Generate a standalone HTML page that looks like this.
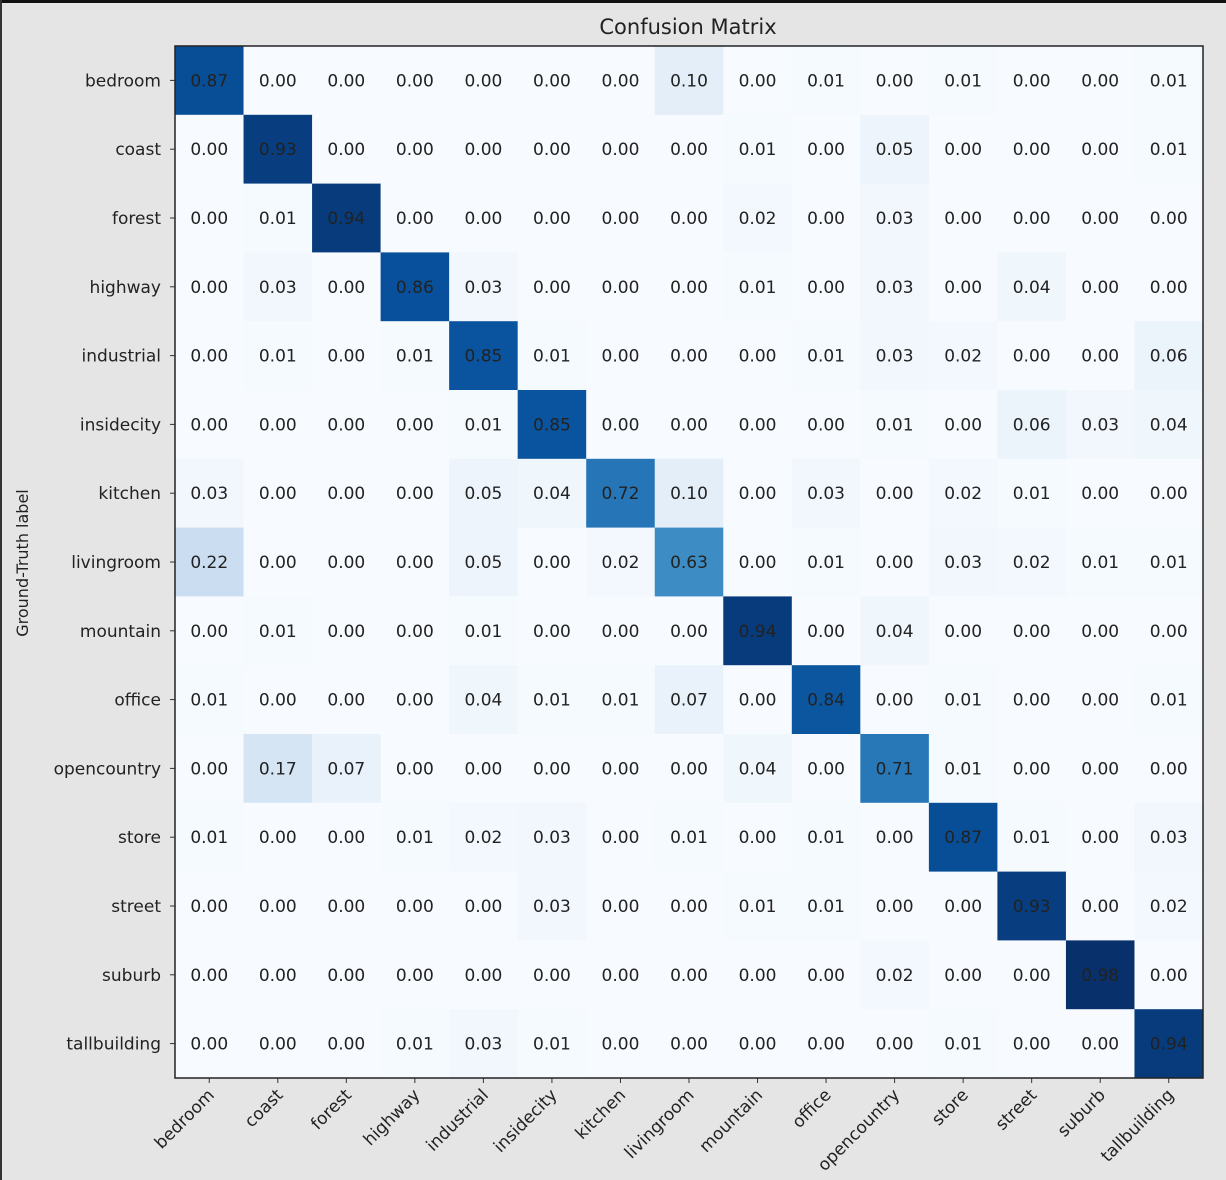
<!DOCTYPE html>
<html><head><meta charset="utf-8"><style>
html,body{margin:0;padding:0;background:#e5e5e5;}
svg{display:block;font-family:"DejaVu Sans","Liberation Sans",sans-serif;}
</style></head><body>
<svg id="chart" width="1226" height="1180">
<rect x="0" y="0" width="1226" height="1180" fill="#e5e5e5"/>
<rect x="0" y="0" width="1226" height="3" fill="#111"/>
<rect x="0" y="0" width="2" height="1180" fill="#333"/>
<text x="688" y="34" font-size="21" text-anchor="middle" fill="#222">Confusion Matrix</text>
<text transform="translate(28,563) rotate(-90)" font-size="16" text-anchor="middle" fill="#222">Ground-Truth label</text>
<g id="cells"></g>
<g id="ticks"></g>
<rect x="175" y="46" width="1028" height="1032" fill="none" stroke="#222" stroke-width="1.5"/>
</svg>
<script>
const categories=["bedroom","coast","forest","highway","industrial","insidecity","kitchen","livingroom","mountain","office","opencountry","store","street","suburb","tallbuilding"];
const row0=[0.87,0,0,0,0,0,0,0.10,0,0.01,0,0.01,0,0,0.01];
const row1=[0,0.93,0,0,0,0,0,0,0.01,0,0.05,0,0,0,0.01];
const row2=[0,0.01,0.94,0,0,0,0,0,0.02,0,0.03,0,0,0,0];
const row3=[0,0.03,0,0.86,0.03,0,0,0,0.01,0,0.03,0,0.04,0,0];
const row4=[0,0.01,0,0.01,0.85,0.01,0,0,0,0.01,0.03,0.02,0,0,0.06];
const row5=[0,0,0,0,0.01,0.85,0,0,0,0,0.01,0,0.06,0.03,0.04];
const row6=[0.03,0,0,0,0.05,0.04,0.72,0.10,0,0.03,0,0.02,0.01,0,0];
const row7=[0.22,0,0,0,0.05,0,0.02,0.63,0,0.01,0,0.03,0.02,0.01,0.01];
const row8=[0,0.01,0,0,0.01,0,0,0,0.94,0,0.04,0,0,0,0];
const row9=[0.01,0,0,0,0.04,0.01,0.01,0.07,0,0.84,0,0.01,0,0,0.01];
const row10=[0,0.17,0.07,0,0,0,0,0,0.04,0,0.71,0.01,0,0,0];
const row11=[0.01,0,0,0.01,0.02,0.03,0,0.01,0,0.01,0,0.87,0.01,0,0.03];
const row12=[0,0,0,0,0,0.03,0,0,0.01,0.01,0,0,0.93,0,0.02];
const row13=[0,0,0,0,0,0,0,0,0,0,0.02,0,0,0.98,0];
const row14=[0,0,0,0.01,0.03,0.01,0,0,0,0,0,0.01,0,0,0.94];
const matrix=[row0,row1,row2,row3,row4,row5,row6,row7,row8,row9,row10,row11,row12,row13,row14];

const NS="http://www.w3.org/2000/svg";
const X0=175,Y0=46,W=1028,H=1032;
const cw=W/categories.length, ch=H/categories.length;
function xs(j){return X0+j*cw;}
function ys(i){return Y0+i*ch;}
const stops=[[247,251,255],[222,235,247],[198,219,239],[158,202,225],[107,174,214],[66,146,198],[33,113,181],[8,81,156],[8,48,107]];
let vmax=0;matrix.forEach(r=>r.forEach(v=>{if(v>vmax)vmax=v;}));
function color(v){let t=Math.max(0,Math.min(1,v/vmax))*(stops.length-1);let k=Math.min(Math.floor(t),stops.length-2);let f=t-k;
const c=stops[k].map((a,n)=>Math.round(a+(stops[k+1][n]-a)*f));return `rgb(${c[0]},${c[1]},${c[2]})`;}
const cells=document.getElementById('cells');
matrix.forEach((r,i)=>r.forEach((v,j)=>{
 const rc=document.createElementNS(NS,'rect');
 rc.setAttribute('x',xs(j));rc.setAttribute('y',ys(i));rc.setAttribute('width',cw+0.5);rc.setAttribute('height',ch+0.5);rc.setAttribute('fill',color(v));
 
 
 cells.appendChild(rc);
 const t=document.createElementNS(NS,'text');
 t.setAttribute('x',xs(j)+cw/2);t.setAttribute('y',ys(i)+ch/2+6);t.setAttribute('text-anchor','middle');t.setAttribute('font-size','17');t.setAttribute('fill','#222');
 t.textContent=v.toFixed(2);
 
 
 cells.appendChild(t);
}));
const ticks=document.getElementById('ticks');
categories.forEach((c,i)=>{
 const cy=ys(i)+ch/2;
 const l=document.createElementNS(NS,'line');
 l.setAttribute('x1',X0-5);l.setAttribute('x2',X0);l.setAttribute('y1',cy);l.setAttribute('y2',cy);l.setAttribute('stroke','#333');
 
 
 ticks.appendChild(l);
 const t=document.createElementNS(NS,'text');
 t.setAttribute('x',X0-14);t.setAttribute('y',cy+6);t.setAttribute('text-anchor','end');t.setAttribute('font-size','17');t.setAttribute('fill','#222');
 t.textContent=c;
 
 
 ticks.appendChild(t);
 const cx=xs(i)+cw/2;
 const l2=document.createElementNS(NS,'line');
 l2.setAttribute('x1',cx);l2.setAttribute('x2',cx);l2.setAttribute('y1',Y0+H);l2.setAttribute('y2',Y0+H+5);l2.setAttribute('stroke','#333');
 
 
 ticks.appendChild(l2);
 const t2=document.createElementNS(NS,'text');
 t2.setAttribute('transform',`translate(${cx+6},${Y0+H+18}) rotate(-45)`);t2.setAttribute('text-anchor','end');t2.setAttribute('font-size','17');t2.setAttribute('fill','#222');
 t2.textContent=c;
 
 
 ticks.appendChild(t2);
});
</script>
</body></html>
